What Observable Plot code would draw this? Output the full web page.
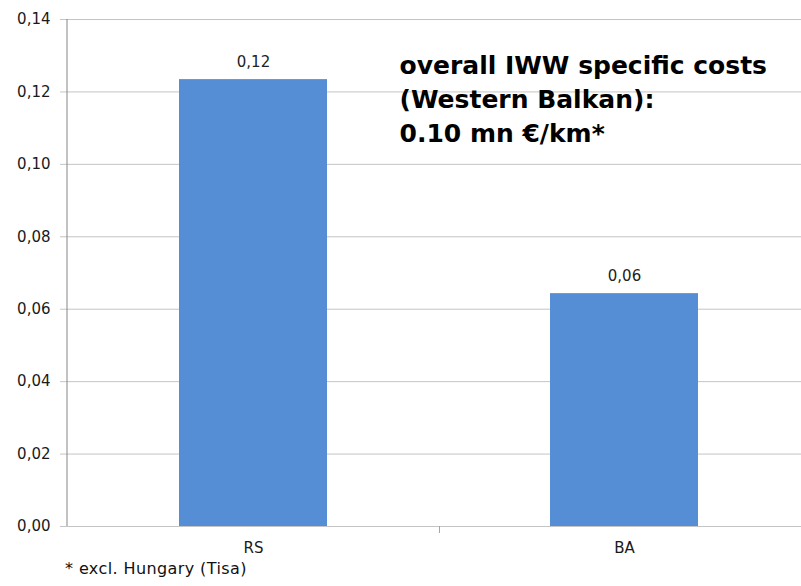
<!DOCTYPE html>
<html>
<head>
<meta charset="utf-8">
<script src="https://cdn.jsdelivr.net/npm/d3@7"></script>
<script src="https://cdn.jsdelivr.net/npm/@observablehq/plot@0.6"></script>
<style>
  html, body { margin: 0; padding: 0; background: #fff; overflow: hidden; }
  #chart svg { display: block; overflow: visible; }
  #foot { font-family: "DejaVu Sans", sans-serif; font-size: 16px; letter-spacing: 0.4px; color: #111; padding: 3px 0 0 65px; line-height: 20px; }
</style>
</head>
<body>
<div id="chart"></div>
<div id="foot"></div>
<script>
const categories = ["RS", "BA"];
const values = [0.1234, 0.0643];
const yTicks = [0, 0.02, 0.04, 0.06, 0.08, 0.10, 0.12, 0.14];
const annotationLines = ["overall IWW specific costs", "(Western Balkan):", "0.10 mn €/km*"];
const footnote = "* excl. Hungary (Tisa)";

const data = categories.map((c, i) => ({cat: c, v: values[i]}));
const fmt = d => d3.format(".2f")(d).replace(".", ",");
const font = "DejaVu Sans, sans-serif";

// axis lines + category separator tick, drawn from the scales
const axesMark = (index, scales, values, dims) => {
  const g = d3.create("svg:g");
  const x = scales.x, y = scales.y;
  const left = dims.marginLeft;
  g.append("line")
    .attr("x1", left).attr("x2", left)
    .attr("y1", y(yTicks[yTicks.length - 1])).attr("y2", y(0))
    .attr("stroke", "#868686").attr("stroke-width", 1);
  for (let i = 1; i < categories.length; i++) {
    const a = x(categories[i - 1]) + x.bandwidth();
    const b = x(categories[i]);
    const xm = Math.round((a + b) / 2) + 0.5;
    g.append("line")
      .attr("x1", xm).attr("x2", xm)
      .attr("y1", y(0)).attr("y2", y(0) + 7)
      .attr("stroke", "#a6a6a6").attr("stroke-width", 1);
  }
  return g.node();
};

const plot = Plot.plot({
  width: 801,
  height: 556,
  marginTop: 19,
  marginBottom: 30,
  marginLeft: 67,
  marginRight: 0,
  style: {fontFamily: font, fontSize: "15px", color: "#1a1a1a", background: "#fff", overflow: "visible"},
  x: {domain: categories, range: [67, 810], paddingInner: 0.6, paddingOuter: 0.3, label: null},
  y: {domain: [0, 0.14], label: null},
  marks: [
    Plot.ruleY(yTicks, {stroke: "#c4c4c4", strokeWidth: 1, insetLeft: -7}),
    Plot.barY(data, {x: "cat", y: "v", fill: "#558ed5"}),
    axesMark,
    Plot.axisY({ticks: yTicks, tickFormat: fmt, tickSize: 0, tickPadding: 17, fontSize: 15, label: null}),
    Plot.axisX({tickSize: 0, tickPadding: 16, fontSize: 15, label: null}),
    Plot.text(data, {x: "cat", y: "v", text: d => fmt(d.v), dy: -13, lineAnchor: "bottom", fontSize: 15, fill: "#222"}),
    Plot.text([annotationLines.join("\n")], {
      frameAnchor: "top-left", dx: 332, dy: 30, textAnchor: "start", lineAnchor: "top",
      lineHeight: 1.36, fontSize: 25, fontWeight: "bold", fill: "#000"
    })
  ]
});
document.getElementById("chart").appendChild(plot);
document.getElementById("foot").textContent = footnote;
</script>
</body>
</html>
